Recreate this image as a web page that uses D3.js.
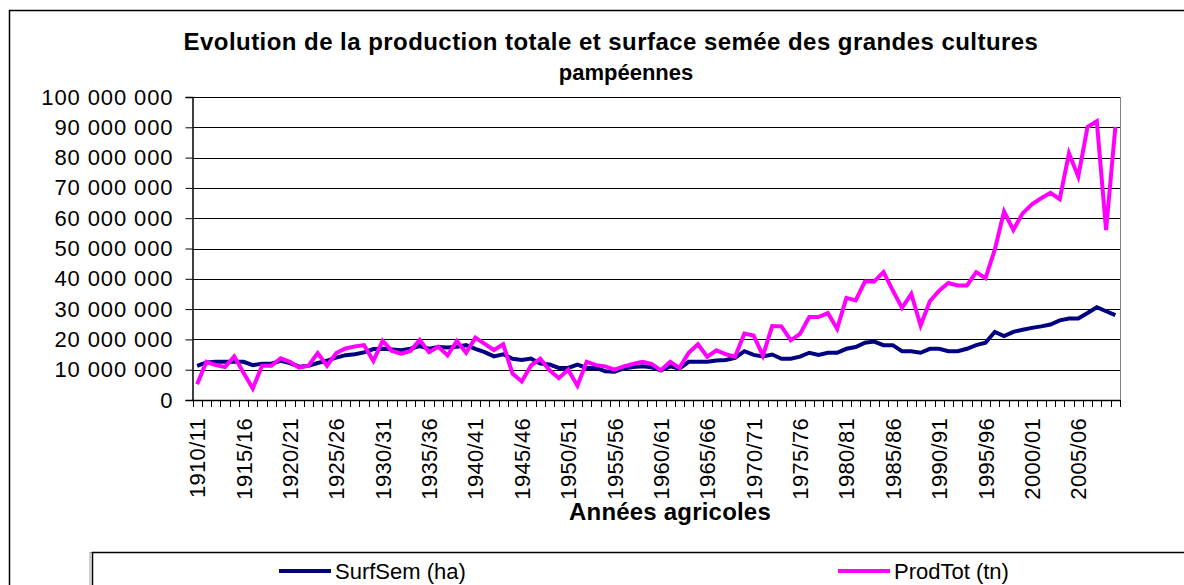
<!DOCTYPE html>
<html>
<head>
<meta charset="utf-8">
<script src="https://cdn.jsdelivr.net/npm/d3@7"></script>
<style>
	body { margin: 0; background: #fff; }
	svg { display: block; font-family: "Liberation Sans", Arial, sans-serif; }
</style>
</head>
<body>
<svg id="chart" width="1184" height="585"></svg>
<script>
var width = 1184,
	height = 585;

// campagnes agricoles 1910/11 .. 2009/10
var years = d3.range(1910, 2010).map(function(y) {
	return y + "/" + String((y + 1) % 100).padStart(2, "0");
});

// surface semée (ha)
var surfSem = [
	11.3e6, 12.4e6, 12.6e6, 12.6e6, 12.6e6, 12.6e6, 11.5e6, 12.0e6, 12.0e6, 12.9e6,
	12.2e6, 11.0e6, 11.3e6, 12.2e6, 13.0e6, 14.0e6, 14.8e6, 15.1e6, 15.7e6, 16.8e6,
	16.9e6, 16.7e6, 16.4e6, 16.9e6, 17.8e6, 16.9e6, 17.5e6, 17.3e6, 17.6e6, 18.1e6,
	16.9e6, 15.8e6, 14.4e6, 15.1e6, 13.6e6, 13.2e6, 13.7e6, 12.0e6, 11.7e6, 10.6e6,
	10.6e6, 11.7e6, 10.6e6, 10.6e6, 9.5e6, 9.3e6, 10.4e6, 10.9e6, 11.1e6, 10.8e6,
	9.8e6, 11.1e6, 10.4e6, 12.6e6, 12.6e6, 12.6e6, 13.0e6, 13.2e6, 13.9e6, 16.1e6,
	14.9e6, 14.4e6, 15.0e6, 13.6e6, 13.6e6, 14.3e6, 15.6e6, 14.9e6, 15.6e6, 15.6e6,
	16.9e6, 17.5e6, 18.9e6, 19.3e6, 18.1e6, 18.1e6, 16.1e6, 16.1e6, 15.6e6, 16.9e6,
	16.9e6, 16.1e6, 16.1e6, 16.9e6, 18.1e6, 18.9e6, 22.5e6, 21.1e6, 22.5e6, 23.2e6,
	23.8e6, 24.3e6, 24.9e6, 26.3e6, 26.9e6, 26.9e6, 28.7e6, 30.6e6, 29.3e6, 28.0e6
];

// production totale (tn)
var prodTot = [
	5.2e6, 12.6e6, 11.5e6, 10.9e6, 14.4e6, 9.0e6, 3.8e6, 11.3e6, 11.3e6, 13.8e6,
	12.6e6, 10.7e6, 11.3e6, 15.5e6, 11.3e6, 15.5e6, 17.0e6, 17.7e6, 18.1e6, 12.9e6,
	19.5e6, 16.2e6, 15.3e6, 16.2e6, 19.8e6, 15.8e6, 17.6e6, 14.7e6, 19.5e6, 15.6e6,
	20.6e6, 18.5e6, 16.5e6, 18.4e6, 8.7e6, 6.1e6, 11.4e6, 13.6e6, 9.8e6, 7.2e6,
	10.0e6, 4.7e6, 12.6e6, 11.5e6, 11.1e6, 10.0e6, 11.1e6, 11.9e6, 12.6e6, 11.9e6,
	9.8e6, 12.6e6, 10.6e6, 15.6e6, 18.4e6, 14.3e6, 16.4e6, 15.1e6, 14.3e6, 21.9e6,
	21.3e6, 14.6e6, 24.4e6, 24.3e6, 19.7e6, 21.8e6, 27.4e6, 27.4e6, 28.7e6, 23.5e6,
	33.7e6, 32.9e6, 39.1e6, 39.1e6, 42.2e6, 36.2e6, 30.4e6, 35.0e6, 24.6e6, 32.6e6,
	36.1e6, 38.6e6, 37.8e6, 37.8e6, 42.2e6, 40.2e6, 49.6e6, 62.2e6, 56.1e6, 61.6e6,
	64.6e6, 66.6e6, 68.4e6, 66.3e6, 81.4e6, 73.7e6, 90.1e6, 92.0e6, 56.1e6, 90.1e6
];

var yTicks = d3.range(0, 100000001, 10000000);
var seriesNames = ["SurfSem (ha)", "ProdTot (tn)"];
var seriesColors = ["#000080", "#ff00ff"];
var titleLines = ["Evolution de la production totale et surface semée des grandes cultures", "pampéennes"];
var xTitle = "Années agricoles";

var svg = d3.select("#chart");

var plot = { left: 192.5, right: 1120, top: 97, bottom: 400 };

var x = d3.scaleBand()
	.domain(years)
	.range([plot.left, plot.right]);

var y = d3.scaleLinear()
	.domain([0, 100000000])
	.range([plot.bottom, plot.top]);

var fmt = function(v) { return d3.format(",")(v).replace(/,/g, " "); };

// cadre extérieur (coupé à droite et en bas)
svg.append("rect")
	.attr("x", 9.5).attr("y", 10.5)
	.attr("width", 1300).attr("height", 700)
	.attr("fill", "#fff")
	.attr("stroke", "#000")
	.attr("stroke-width", 1.5);

// titre
var titleX = [611, 626];
svg.append("g").selectAll("text")
	.data(titleLines)
.enter().append("text")
	.attr("x", function(d, i) { return titleX[i]; })
	.attr("y", function(d, i) { return 50 + i * 30; })
	.attr("text-anchor", "middle")
	.attr("font-size", function(d, i) { return i == 0 ? 24 : 22; })
	.attr("letter-spacing", function(d, i) { return i == 0 ? 0.45 : 0; })
	.attr("font-weight", "bold")
	.text(function(d) { return d; });

// grille
svg.append("g")
	.selectAll("line")
	.data(yTicks)
.enter().append("line")
	.attr("x1", plot.left).attr("x2", plot.right)
	.attr("y1", function(d) { return Math.round(y(d)) + 0.5; })
	.attr("y2", function(d) { return Math.round(y(d)) + 0.5; })
	.attr("stroke", "#000")
	.attr("stroke-width", 1);

// bord droit zone de traçage
svg.append("line")
	.attr("x1", plot.right + 0.5).attr("x2", plot.right + 0.5)
	.attr("y1", plot.top).attr("y2", plot.bottom)
	.attr("stroke", "#808080");

// axe Y
var yAxis = d3.axisLeft(y)
	.tickValues(yTicks)
	.tickFormat(fmt)
	.tickSize(7)
	.tickPadding(12);

var gy = svg.append("g")
	.attr("transform", "translate(" + plot.left + ",0)")
	.call(yAxis);
gy.select(".domain").attr("stroke", "#000").attr("stroke-width", 1.5);
gy.selectAll(".tick line").attr("stroke", "#000");
gy.selectAll(".tick text")
	.attr("font-size", 22)
	.attr("font-family", "'Liberation Sans', Arial, sans-serif")
	.attr("letter-spacing", 0.9)
	.attr("fill", "#000");

// axe X : graduations entre catégories
var bw = x.bandwidth();
var gx = svg.append("g");
gx.append("line")
	.attr("x1", plot.left).attr("x2", plot.right)
	.attr("y1", plot.bottom + 0.5).attr("y2", plot.bottom + 0.5)
	.attr("stroke", "#000").attr("stroke-width", 1.5);
gx.selectAll(".xt")
	.data(d3.range(years.length + 1))
.enter().append("line")
	.attr("class", "xt")
	.attr("x1", function(d) { return Math.round(plot.left + d * bw) + 0.5; })
	.attr("x2", function(d) { return Math.round(plot.left + d * bw) + 0.5; })
	.attr("y1", plot.bottom).attr("y2", plot.bottom + 7)
	.attr("stroke", "#000");

gx.selectAll(".xl")
	.data(years.filter(function(d, i) { return i % 5 == 0; }))
.enter().append("text")
	.attr("class", "xl")
	.attr("transform", function(d) {
		return "translate(" + (x(d) + bw / 2 + 8) + "," + (plot.bottom + 18) + ") rotate(-90)";
	})
	.attr("text-anchor", "end")
	.attr("font-size", 22)
	.attr("letter-spacing", 0.3)
	.text(function(d) { return d; });

// titre axe X
svg.append("text")
	.attr("x", 670)
	.attr("y", 520)
	.attr("text-anchor", "middle")
	.attr("font-size", 24)
	.attr("letter-spacing", 0.2)
	.attr("font-weight", "bold")
	.text(xTitle);

// courbes
var line = d3.line()
	.x(function(d, i) { return x(years[i]) + bw / 2; })
	.y(function(d) { return y(d); });

[surfSem, prodTot].forEach(function(s, k) {
	svg.append("path")
		.datum(s)
		.attr("fill", "none")
		.attr("stroke", seriesColors[k])
		.attr("stroke-width", 4)
		.attr("stroke-linejoin", "miter")
		.attr("d", line);
});

// légende
svg.append("rect")
	.attr("x", 90).attr("y", 552.5)
	.attr("width", 1200).attr("height", 100)
	.attr("fill", "none")
	.attr("stroke", "#a0a0a0")
	.attr("stroke-width", 1);
svg.append("rect")
	.attr("x", 92.5).attr("y", 552.5)
	.attr("width", 1200).attr("height", 100)
	.attr("fill", "#fff")
	.attr("stroke", "#000")
	.attr("stroke-width", 1.5);

var legendX = [279, 838];
var lg = svg.append("g").selectAll("g")
	.data(seriesNames)
.enter().append("g")
	.attr("transform", function(d, i) { return "translate(" + legendX[i] + ",571)"; });
lg.append("line")
	.attr("x1", 0).attr("x2", 52)
	.attr("stroke", function(d, i) { return seriesColors[i]; })
	.attr("stroke-width", 4);
lg.append("text")
	.attr("x", 56)
	.attr("y", 8)
	.attr("font-size", 22)
	.text(function(d) { return d; });
</script>
</body>
</html>
